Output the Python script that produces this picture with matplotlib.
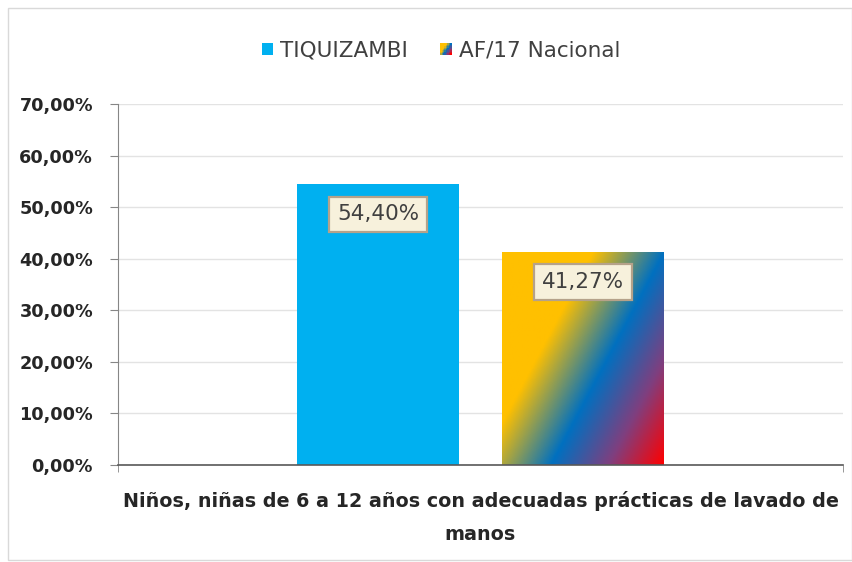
import numpy as np
import matplotlib
matplotlib.use("Agg")
import matplotlib.pyplot as plt
from matplotlib.patches import Rectangle
from matplotlib.legend_handler import HandlerBase
from matplotlib.colors import LinearSegmentedColormap

categories = ["Niños, niñas de 6 a 12 años con adecuadas prácticas de lavado de\nmanos"]
series_names = ["TIQUIZAMBI", "AF/17 Nacional"]
values = [54.40, 41.27]
value_labels = ["54,40%", "41,27%"]
y_ticks = [0, 10, 20, 30, 40, 50, 60, 70]
y_tick_labels = ["0,00%", "10,00%", "20,00%", "30,00%", "40,00%", "50,00%", "60,00%", "70,00%"]

plt.rcParams['font.family'] = ['DejaVu Sans']

blue = '#00B0F0'
grad_cmap = LinearSegmentedColormap.from_list(
    'flag', [(0.0, '#FFC000'), (0.33, '#FFC000'), (0.59, '#0070C0'), (0.8, '#7F3F7F'), (1.0, '#FF0000')])

fig = plt.figure(figsize=(8.53, 5.62), dpi=100)
fig.patches.append(Rectangle((0.009, 0.004), 0.99, 0.982, transform=fig.transFigure,
                             fill=False, edgecolor='#d9d9d9', linewidth=1.0))
ax = fig.add_axes([0.1383, 0.1726, 0.850, 0.6424])

width = 0.2234
offsets = [-0.141, 0.141]
for i, (v, off) in enumerate(zip(values, offsets)):
    if i == 0:
        ax.bar(off, v, width=width, color=blue, zorder=2)
    else:
        b = ax.bar(off, v, width=width, color='none', zorder=2)
        patch = b[0]
        x0, x1 = off - width / 2, off + width / 2
        n = 200
        xx, ww = np.meshgrid(np.linspace(0, 1, n), np.linspace(0, 1, n))
        a = 1.43
        g = (a * xx + ww) / (a + 1)
        im = ax.imshow(g, cmap=grad_cmap, extent=[x0, x1, 0, v], aspect='auto',
                       origin='upper', zorder=2, interpolation='bilinear', vmin=0, vmax=1)
        im.set_clip_path(patch)

for v, off, lab in zip(values, offsets, value_labels):
    ax.text(off, v - 5.8, lab, ha='center', va='center', fontsize=15.5, color='#404040',
            zorder=4,
            bbox=dict(boxstyle='square,pad=0.36', facecolor='#f7f1dc', edgecolor='#b5a28a', linewidth=1.6))

ax.set_xlim(-0.5, 0.5)
ax.set_ylim(0, 70)
ax.set_yticks(y_ticks)
ax.set_yticklabels(y_tick_labels, fontsize=12.7, fontweight='bold', color='#262626')
ax.set_xticks([0])
ax.set_xticklabels(categories, fontsize=13.8, fontweight='bold', color='#262626', linespacing=1.9)
ax.tick_params(axis='x', length=0, pad=19)
ax.set_xticks([-0.5, 0.5], minor=True)
ax.tick_params(axis='x', which='minor', length=5, color='#868686')
ax.tick_params(axis='y', length=6, color='#868686', direction='out', pad=12)
ax.grid(axis='y', color='#e3e3e3', linewidth=1, zorder=0)
ax.set_axisbelow(True)
for s in ['top', 'right']:
    ax.spines[s].set_visible(False)
ax.spines['left'].set_color('#868686')
ax.spines['bottom'].set_color('#595959')
ax.spines['bottom'].set_linewidth(1.2)


class GradientHandler(HandlerBase):
    def create_artists(self, legend, orig_handle, xdescent, ydescent, width, height, fontsize, trans):
        arts = []
        n = 8
        s = min(width, height) * 0.75
        x0 = width - s - xdescent - 2
        y0 = (height - s) / 2 - ydescent
        for i in range(n):
            for j in range(n):
                t = (1.43 * i / (n - 1) + (n - 1 - j) / (n - 1)) / 2.43
                r = Rectangle((x0 + i * s / n, y0 + j * s / n), s / n, s / n,
                              facecolor=grad_cmap(t), edgecolor='none', transform=trans)
                arts.append(r)
        return arts


class SquareHandler(HandlerBase):
    def create_artists(self, legend, orig_handle, xdescent, ydescent, width, height, fontsize, trans):
        s = min(width, height) * 0.75
        r = Rectangle((width - s - xdescent - 2, (height - s) / 2 - ydescent), s, s,
                      facecolor=orig_handle.get_facecolor(), edgecolor='none', transform=trans)
        return [r]


h1 = Rectangle((0, 0), 1, 1, facecolor=blue)
h2 = Rectangle((0, 0), 1, 1, facecolor='gray')
fig.legend([h1, h2], series_names, loc='center', bbox_to_anchor=(0.515, 0.91), ncol=2,
           frameon=False, fontsize=15.5, handler_map={h1: SquareHandler(), h2: GradientHandler()},
           handlelength=0.8, handletextpad=0.2, columnspacing=1.35, labelcolor='#404040')

fig.savefig('out.png', dpi=100, facecolor='white')
